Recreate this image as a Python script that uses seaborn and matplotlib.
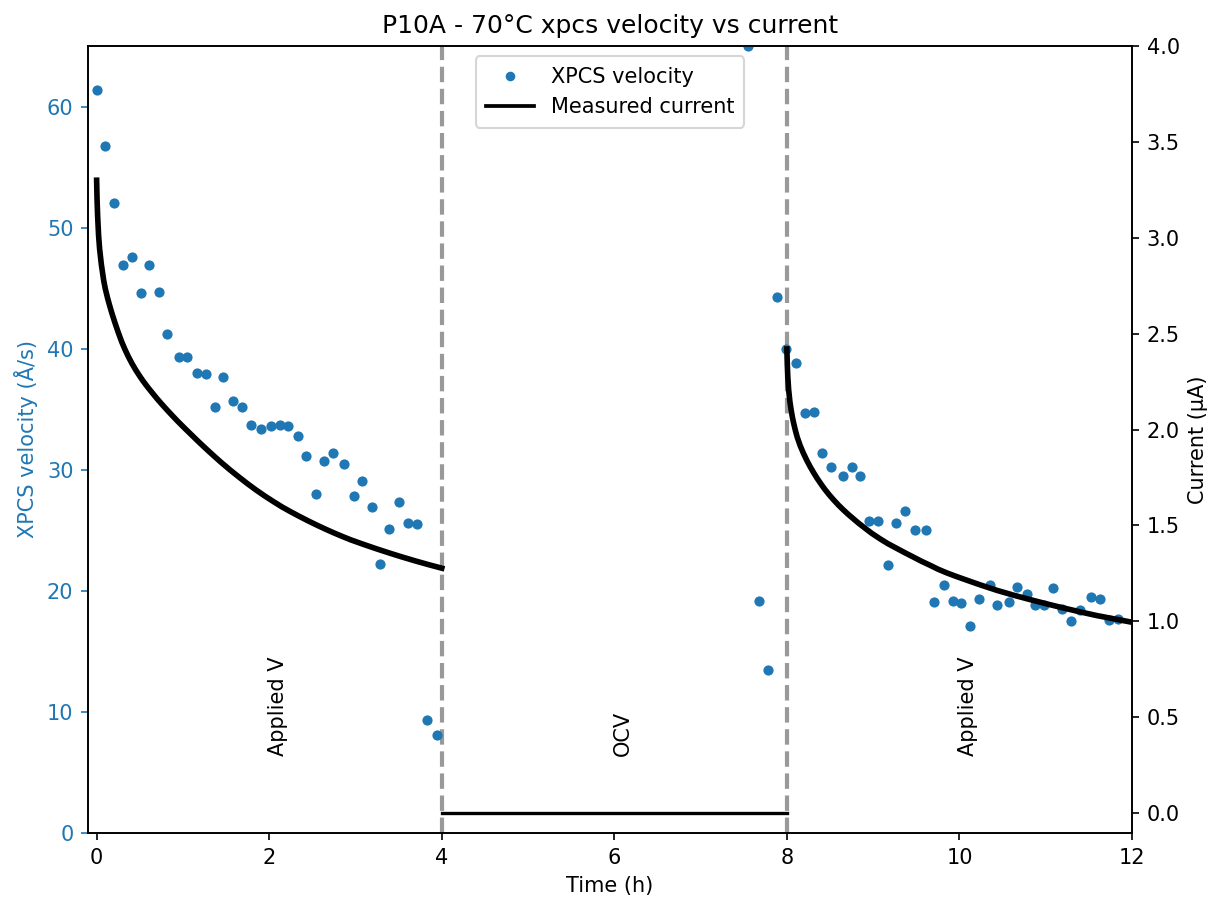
import matplotlib
matplotlib.use("Agg")
import matplotlib.pyplot as plt
import seaborn as sns
import pandas as pd
from matplotlib.lines import Line2D

plt.rcParams['font.family'] = ['DejaVu Sans']

# ---- XPCS velocity (Å/s) vs time (h) ----
xpcs_time = [0.00, 0.10, 0.20, 0.30, 0.41, 0.51, 0.61, 0.72, 0.82, 0.96,
             1.05, 1.16, 1.27, 1.37, 1.47, 1.58, 1.68, 1.79, 1.91, 2.02,
             2.12, 2.22, 2.33, 2.43, 2.54, 2.64, 2.74, 2.87, 2.98, 3.08,
             3.19, 3.29, 3.39, 3.50, 3.61, 3.71, 3.83, 3.95,
             7.55, 7.68, 7.78, 7.89, 7.99,
             8.10, 8.21, 8.31, 8.41, 8.51, 8.65, 8.75, 8.85, 8.95, 9.06,
             9.17, 9.27, 9.37, 9.48, 9.61, 9.71, 9.82, 9.92, 10.02, 10.12,
             10.23, 10.35, 10.44, 10.57, 10.67, 10.78, 10.88, 10.98, 11.08, 11.19,
             11.29, 11.40, 11.53, 11.63, 11.73, 11.84]
xpcs_velocity = [61.4, 56.7, 52.0, 46.9, 47.6, 44.6, 46.9, 44.7, 41.2, 39.3,
                 39.3, 38.0, 37.9, 35.2, 37.7, 35.7, 35.2, 33.7, 33.4, 33.6,
                 33.7, 33.6, 32.8, 31.1, 28.0, 30.7, 31.4, 30.5, 27.8, 29.1,
                 26.9, 22.2, 25.1, 27.3, 25.6, 25.5, 9.3, 8.1,
                 65.0, 19.2, 13.5, 44.3, 40.0,
                 38.8, 34.7, 34.8, 31.4, 30.2, 29.5, 30.2, 29.5, 25.8, 25.8,
                 22.1, 25.6, 26.6, 25.0, 25.0, 19.1, 20.5, 19.2, 19.0, 17.1,
                 19.3, 20.5, 18.8, 19.1, 20.3, 19.7, 18.8, 18.8, 20.2, 18.5,
                 17.5, 18.4, 19.5, 19.3, 17.6, 17.7]

# ---- Measured current (µA) ----
cur1_time = [0.000, 0.005, 0.012, 0.023, 0.035, 0.055, 0.081, 0.100, 0.130, 0.155,
             0.178, 0.210, 0.250, 0.290, 0.330, 0.370, 0.410, 0.450, 0.500, 0.540,
             0.590, 0.640, 0.700, 0.750, 0.810, 0.870, 0.940, 1.020, 1.100, 1.180,
             1.270, 1.360, 1.450, 1.550, 1.650, 1.750, 1.850, 1.950, 2.050, 2.150,
             2.250, 2.350, 2.450, 2.550, 2.650, 2.750, 2.850, 2.950, 3.100, 3.250,
             3.400, 3.550, 3.700, 3.850, 4.000]
cur1_val = [3.300, 3.200, 3.110, 3.010, 2.940, 2.860, 2.780, 2.735, 2.680, 2.640,
            2.605, 2.560, 2.507, 2.458, 2.416, 2.378, 2.344, 2.313, 2.278, 2.252,
            2.222, 2.194, 2.161, 2.135, 2.105, 2.076, 2.043, 2.007, 1.972, 1.937,
            1.899, 1.862, 1.826, 1.788, 1.752, 1.717, 1.684, 1.653, 1.624, 1.596,
            1.571, 1.547, 1.524, 1.502, 1.481, 1.461, 1.442, 1.424, 1.400, 1.377,
            1.355, 1.334, 1.314, 1.295, 1.277]
cur2_time = [4.00, 8.00]
cur2_val = [0.0, 0.0]
cur3_time = [8.000, 8.005, 8.010, 8.020, 8.035, 8.050, 8.065, 8.080, 8.100, 8.120,
             8.155, 8.190, 8.230, 8.270, 8.310, 8.350, 8.400, 8.440, 8.490, 8.540,
             8.600, 8.650, 8.710, 8.770, 8.830, 8.890, 8.980, 9.080, 9.170, 9.270,
             9.370, 9.470, 9.560, 9.660, 9.750, 9.850, 9.950, 10.050, 10.240, 10.430,
             10.620, 10.820, 11.010, 11.200, 11.400, 11.590, 11.800, 12.000]
cur3_val = [2.420, 2.340, 2.280, 2.210, 2.145, 2.100, 2.062, 2.030, 1.993, 1.960,
            1.915, 1.878, 1.840, 1.806, 1.775, 1.746, 1.713, 1.688, 1.660, 1.634,
            1.605, 1.583, 1.558, 1.535, 1.512, 1.491, 1.460, 1.430, 1.405, 1.381,
            1.357, 1.334, 1.313, 1.292, 1.272, 1.253, 1.236, 1.220, 1.190, 1.162,
            1.137, 1.113, 1.091, 1.070, 1.049, 1.030, 1.012, 0.995]

phase_bounds = [4, 8]
phase_labels = ["Applied V", "OCV", "Applied V"]
phase_label_x = [2.1, 6.1, 10.1]

blue = '#1f77b4'

fig = plt.figure(figsize=(1210 / 150, 897 / 150), dpi=150)
ax = fig.add_axes([88 / 1210, 64 / 897, (1132 - 88) / 1210, (833 - 46) / 897])

for b in phase_bounds:
    ax.axvline(b, color='#999999', linestyle='--', linewidth=2, zorder=1)

df_x = pd.DataFrame({'time': xpcs_time, 'velocity': xpcs_velocity})
sns.scatterplot(data=df_x, x='time', y='velocity', ax=ax, color=blue, s=24,
                linewidth=0, legend=False, zorder=3)

ax.set_xlim(-0.1, 12)
ax.set_ylim(0, 65)
ax.set_xticks([0, 2, 4, 6, 8, 10, 12])
ax.set_yticks([0, 10, 20, 30, 40, 50, 60])
ax.set_xlabel('Time (h)', fontsize=10)
ax.set_ylabel('XPCS velocity (Å/s)', color=blue, fontsize=10)
ax.tick_params(axis='y', colors=blue, labelsize=10)
ax.tick_params(axis='x', labelsize=10)

for lx, lt in zip(phase_label_x, phase_labels):
    ax.text(lx, 6.4, lt, rotation=90, ha='center', va='bottom', fontsize=10)

ax2 = ax.twinx()
for tt, vv, lw in [(cur1_time, cur1_val, 2.7), (cur2_time, cur2_val, 1.6),
                   (cur3_time, cur3_val, 2.7)]:
    d = pd.DataFrame({'time': tt, 'current': vv})
    sns.lineplot(data=d, x='time', y='current', ax=ax2, color='black',
                 linewidth=lw, estimator=None, sort=False, legend=False)
ax2.set_ylim(-0.104, 4.0)
ax2.set_yticks([0.0, 0.5, 1.0, 1.5, 2.0, 2.5, 3.0, 3.5, 4.0])
ax2.set_yticklabels(['0.0', '0.5', '1.0', '1.5', '2.0', '2.5', '3.0', '3.5', '4.0'])
ax2.set_ylabel('Current (µA)', fontsize=10)
ax2.tick_params(axis='y', labelsize=10)
ax2.set_xlim(-0.1, 12)

handles = [Line2D([], [], marker='o', linestyle='none', color=blue, markersize=3.6),
           Line2D([], [], color='black', linewidth=1.8)]
ax2.legend(handles, ['XPCS velocity', 'Measured current'], loc='upper center',
           fontsize=10, handlelength=2.3, borderpad=0.5)

ax.set_title('P10A - 70°C xpcs velocity vs current', fontsize=12)

fig.savefig('out.png', dpi=150)
